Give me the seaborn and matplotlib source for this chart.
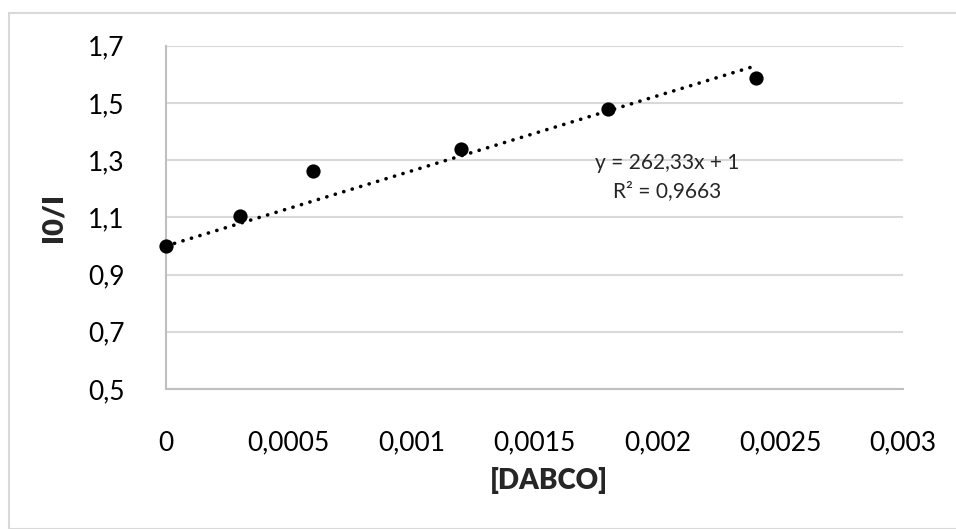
import numpy as np
import pandas as pd
import matplotlib
matplotlib.use("Agg")
import matplotlib.pyplot as plt
from matplotlib.patches import Rectangle
import seaborn as sns

# Stern-Volmer data: quencher concentration vs. intensity ratio
dabco = [0.0, 0.0003, 0.0006, 0.0012, 0.0018, 0.0024]
i0_over_i = [1.0, 1.106, 1.262, 1.339, 1.478, 1.586]

# Linear trendline (intercept fixed at 1)
slope = 262.33
intercept = 1.0
r_squared = 0.9663

x_ticks = [0, 0.0005, 0.001, 0.0015, 0.002, 0.0025, 0.003]
x_tick_labels = ["0", "0,0005", "0,001", "0,0015", "0,002", "0,0025", "0,003"]
y_ticks = [0.5, 0.7, 0.9, 1.1, 1.3, 1.5, 1.7]
y_tick_labels = ["0,5", "0,7", "0,9", "1,1", "1,3", "1,5", "1,7"]

sns.set_theme(style="white")
plt.rcParams["font.family"] = ["Lato", "DejaVu Sans"]

W, H = 956, 529
fig = plt.figure(figsize=(W / 100, H / 100), dpi=100)
fig.patch.set_facecolor("white")

# Chart-area frame
fig.patches.append(Rectangle((8.5 / W, 0), 1, 1 - 12.5 / H, transform=fig.transFigure,
                             fill=False, edgecolor="#d9d9d9", linewidth=1.5, zorder=0))

left, right, top, bottom = 166, 903, 45.7, 389
ax = fig.add_axes([left / W, 1 - bottom / H, (right - left) / W, (bottom - top) / H])

df = pd.DataFrame({"dabco": dabco, "ratio": i0_over_i})

# Trendline over the data range
x_fit = np.array([min(dabco), max(dabco)])
fit = pd.DataFrame({"dabco": x_fit, "ratio": slope * x_fit + intercept})
sns.lineplot(data=fit, x="dabco", y="ratio", ax=ax, color="black", linewidth=2.6,
             linestyle=(0, (0.05, 2.4)), solid_capstyle="round", dash_capstyle="round",
             zorder=3)

sns.scatterplot(data=df, x="dabco", y="ratio", ax=ax, s=105, color="black",
                edgecolor="black", linewidth=0, zorder=4, clip_on=False)

ax.set_xlim(0, 0.003)
ax.set_ylim(0.5, 1.7)
ax.set_xticks(x_ticks)
ax.set_xticklabels(x_tick_labels)
ax.set_yticks(y_ticks)
ax.set_yticklabels(y_tick_labels)
ax.tick_params(axis="both", length=0, labelsize=19, colors="#000000")
ax.tick_params(axis="x", pad=30)
ax.tick_params(axis="y", pad=30)

ax.grid(axis="y", color="#d9d9d9", linewidth=1.5)
ax.grid(axis="x", visible=False)
for side in ["top", "right"]:
    ax.spines[side].set_visible(False)
ax.spines["left"].set_color("#bfbfbf")
ax.spines["left"].set_linewidth(1.5)
ax.spines["bottom"].set_color("#bfbfbf")
ax.spines["bottom"].set_linewidth(1.5)
ax.set_axisbelow(True)

ax.set_xlabel("[DABCO]", fontsize=20, fontweight="heavy")
ax.xaxis.set_label_coords(0.519, -0.228)
ax.set_ylabel("I0/I", fontsize=21, fontweight="heavy")
ax.yaxis.set_label_coords(-0.135, 0.5)

eq_text = f"y = {slope:.2f}x + {intercept:g}".replace(".", ",")
r2_text = f"R² = {r_squared:.4f}".replace(".", ",")
ax.text(0.00204, 1.29, eq_text, ha="center", va="center", fontsize=15)
ax.text(0.00204, 1.192, r2_text, ha="center", va="center", fontsize=15)

fig.savefig("out.png", dpi=100, facecolor="white")
